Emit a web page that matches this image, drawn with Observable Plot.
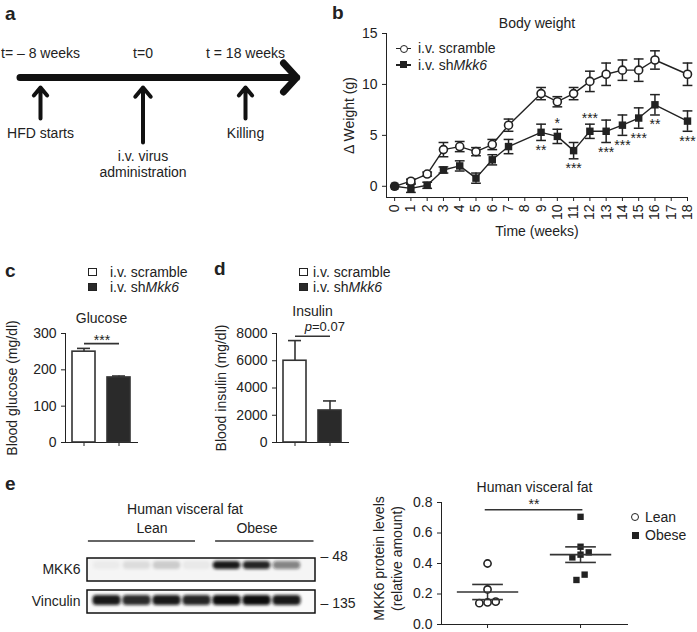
<!DOCTYPE html>
<html><head><meta charset="utf-8">
<script src="https://cdn.jsdelivr.net/npm/d3@7"></script>
<script src="https://cdn.jsdelivr.net/npm/@observablehq/plot@0.6"></script>
<style>
body{margin:0;background:#fff;}
#fig{position:relative;width:697px;height:632px;overflow:hidden;font-family:"Liberation Sans",Arial,Helvetica,sans-serif;color:#222;background:#fff;}
.panel{position:absolute;}
.letter{position:absolute;font-weight:bold;font-size:19px;line-height:1;}
.leg{position:absolute;font-size:14px;line-height:16px;white-space:nowrap;height:16px;}
.box{position:absolute;width:9px;height:8px;border:1.5px solid #222;box-sizing:border-box;}
.lnsym{position:absolute;height:1.5px;background:#222;}
.circ{position:absolute;width:8px;height:8px;border:1.5px solid #222;border-radius:50%;background:#fff;box-sizing:border-box;}
.sq{position:absolute;width:7px;height:7px;background:#222;}
</style></head>
<body>
<div id="fig"></div>
<script>
// ---------------- DATA ----------------
// Panel a: timeline
const timelineLabels = ["t= – 8 weeks", "t=0", "t = 18 weeks"];
const timelineEvents = ["HFD starts", "i.v. virus\nadministration", "Killing"];

// Panel b: body weight
const weeks = [0, 1, 2, 3, 4, 5, 6, 7, 9, 10, 11, 12, 13, 14, 15, 16, 18];
const scrambleMean = [0, 0.5, 1.2, 3.6, 3.9, 3.4, 4.1, 6.0, 9.1, 8.3, 9.1, 10.3, 11.0, 11.4, 11.4, 12.4, 11.0];
const scrambleSem  = [0, 0.2, 0.2, 0.7, 0.5, 0.4, 0.5, 0.6, 0.6, 0.5, 0.6, 1.0, 1.1, 1.0, 1.1, 0.9, 1.1];
const shMkk6Mean   = [0, -0.2, 0.1, 1.6, 2.0, 0.8, 2.6, 3.9, 5.3, 4.9, 3.5, 5.4, 5.4, 6.0, 6.7, 8.0, 6.4];
const shMkk6Sem    = [0, 0.4, 0.3, 0.3, 0.5, 0.5, 0.5, 0.7, 0.8, 0.7, 0.8, 0.7, 1.1, 1.0, 1.0, 1.0, 1.0];
const starWeeks  = [9, 10, 11, 12, 13, 14, 15, 16, 18];
const starLabels = ["**", "*", "***", "***", "***", "***", "***", "**", "***"];
const starSide   = ["below", "above", "below", "above", "below", "below", "below", "below", "below"];

// Panels c, d
const barGroups = ["i.v. scramble", "i.v. shMkk6"];
const glucoseMean = [250, 179];
const glucoseSem = [9, 4];
const glucoseSig = {y: 272, label: "***"};
const insulinMean = [6000, 2350];
const insulinSem = [1480, 700];
const insulinSig = {y: 7800, label: "=0.07"};

// Panel e: western blot
const blotLanes = [0, 1, 2, 3, 4, 5, 6];
const laneGroup = ["Lean", "Lean", "Lean", "Lean", "Obese", "Obese", "Obese"];
const mkk6Signal = [0.04, 0.1, 0.17, 0.05, 0.95, 0.9, 0.5];
const vinculinSignal = [0.95, 0.88, 0.95, 0.9, 1.0, 1.0, 0.95];
const blotRows = ["MKK6", "Vinculin"];
const blotMarkers = ["– 48", "– 135"];
const groupSpans = [{group: "Lean", from: -0.62, to: 2.95}, {group: "Obese", from: 3.62, to: 6.9}];

// Panel e: quantification
const leanValues = [0.40, 0.23, 0.15, 0.14, 0.145];
const obeseValues = [0.706, 0.51, 0.458, 0.44, 0.473, 0.327, 0.292];
const scatterGroups = ["Lean", "Obese"];
const scatterSig = {y: 0.752, label: "**"};

// ---------------- HELPERS ----------------
const FONT = '"Liberation Sans", Arial, Helvetica, sans-serif';
const INK = "#222";
const fig = document.getElementById("fig");
function place(node, left, top) {
  const d = document.createElement("div");
  d.className = "panel";
  d.style.left = left + "px"; d.style.top = top + "px";
  d.appendChild(node); fig.appendChild(d);
  return node;
}
function html(str) { const t = document.createElement("div"); t.innerHTML = str; while (t.firstChild) fig.appendChild(t.firstChild); }
const st = (size = 14) => ({fontFamily: FONT, fontSize: size + "px", color: INK, background: "transparent", overflow: "visible"});

// ---------------- PANEL A ----------------
{
  const ev = timelineLabels.map((label, i) => ({i, label, note: timelineEvents[i], long: i === 1}));
  const a = Plot.plot({
    width: 300, height: 190, marginTop: 0, marginBottom: 0, marginLeft: 40, marginRight: 55,
    style: st(14),
    x: {domain: [0, 2], axis: null},
    y: {domain: [0, 190], range: [0, 190], axis: null},
    marks: [
      Plot.arrow([0], {x1: -0.2, x2: 2.5, y1: 77, y2: 77, stroke: "#111", strokeWidth: 7, headLength: 4.2, headAngle: 95, strokeLinejoin: "miter"}),
      Plot.arrow(ev, {x1: "i", x2: "i", y1: d => d.long ? 142 : 118, y2: 87, stroke: "#111", strokeWidth: 4, headLength: 4.5, headAngle: 80, strokeLinejoin: "miter"}),
      Plot.text(ev, {x: "i", y: 53, text: "label", fill: INK}),
      Plot.text(ev, {x: "i", y: d => d.long ? 163 : 132, text: "note", fill: INK, lineHeight: 1.15})
    ]
  });
  place(a, 0, 0);
}

// ---------------- PANEL B ----------------
{
  const rows = weeks.flatMap((w, i) => [
    {week: w, mean: scrambleMean[i], sem: scrambleSem[i], series: "scramble"},
    {week: w, mean: shMkk6Mean[i], sem: shMkk6Sem[i], series: "shMkk6"}
  ]);
  const sc = rows.filter(d => d.series === "scramble");
  const sh = rows.filter(d => d.series === "shMkk6");
  const stars = starWeeks.map((w, k) => {
    const d = sh.find(r => r.week === w);
    return {week: w, label: starLabels[k], side: starSide[k], y: starSide[k] === "below" ? d.mean - d.sem : d.mean + d.sem};
  });
  const eb = rows.filter(d => d.sem > 0);
  const b = Plot.plot({
    width: 397, height: 240, marginLeft: 86, marginRight: 10, marginTop: 33, marginBottom: 43,
    style: st(14),
    x: {domain: [-0.5, 18], ticks: d3.range(0, 19), tickRotate: -90, tickSize: 4, tickPadding: 3, line: true,
        label: "Time (weeks)", labelAnchor: "center", labelOffset: 38, labelArrow: false},
    y: {domain: [-1.1, 15], ticks: [0, 5, 10, 15], tickSize: 4, line: true,
        label: "Δ Weight (g)", labelAnchor: "center", labelOffset: 42, labelArrow: false},
    marks: [
      Plot.line(rows, {x: "week", y: "mean", z: "series", stroke: INK, strokeWidth: 1.4}),
      Plot.ruleX(eb, {x: "week", y1: d => d.mean - d.sem, y2: d => d.mean + d.sem, stroke: INK, strokeWidth: 1.5}),
      Plot.link(eb, {x1: d => d.week - 0.3, x2: d => d.week + 0.3, y1: d => d.mean + d.sem, y2: d => d.mean + d.sem, stroke: INK, strokeWidth: 1.5}),
      Plot.link(eb, {x1: d => d.week - 0.3, x2: d => d.week + 0.3, y1: d => d.mean - d.sem, y2: d => d.mean - d.sem, stroke: INK, strokeWidth: 1.5}),
      Plot.dot(sc, {x: "week", y: "mean", r: 4, fill: "white", stroke: INK, strokeWidth: 1.6}),
      Plot.dot(sh, {x: "week", y: "mean", r: 4.2, symbol: "square", fill: INK}),
      Plot.text(stars.filter(d => d.side === "below"), {x: "week", y: "y", text: "label", dy: 10, fill: INK, fontSize: 14}),
      Plot.text(stars.filter(d => d.side === "above"), {x: "week", y: "y", text: "label", dy: -6, fill: INK, fontSize: 14}),
      Plot.text(["Body weight"], {frameAnchor: "top", dy: -15, fill: INK, fontSize: 14})
    ]
  });
  place(b, 300, 0);
}

// ---------------- PANELS C, D ----------------
function barPanel({means, sems, sig, domain, ticks, label, labelOffset, title, titleDy, italicP}) {
  const data = barGroups.map((g, i) => ({group: g, mean: means[i], sem: sems[i]}));
  const marks = [
    Plot.barY(data, {x: "group", y: "mean", fill: d => d.group === barGroups[0] ? "white" : "#2a2a2a", stroke: "#333", strokeWidth: 1.6}),
    Plot.ruleX(data, {x: "group", y1: "mean", y2: d => d.mean + d.sem, stroke: "#333", strokeWidth: 1.6}),
    Plot.tickY(data, {x: "group", y: d => d.mean + d.sem, stroke: "#333", strokeWidth: 1.6, insetLeft: 5, insetRight: 5}),
    Plot.link([sig], {x1: () => barGroups[0], x2: () => barGroups[1], y1: "y", y2: "y", stroke: "#333", strokeWidth: 1.6}),
    Plot.text([title], {frameAnchor: "top", dy: titleDy, fill: INK, fontSize: 14})
  ];
  if (italicP) {
    marks.push(Plot.text([sig], {x: () => barGroups[0], y: "y", text: () => "p", dx: 17, dy: -9, textAnchor: "end", fontStyle: "italic", fill: INK, fontSize: 13}));
    marks.push(Plot.text([sig], {x: () => barGroups[0], y: "y", text: "label", dx: 17, dy: -9, textAnchor: "start", fill: INK, fontSize: 13}));
  } else {
    marks.push(Plot.text([sig], {x: () => barGroups[0], y: "y", text: "label", dx: 18, dy: -3, fill: INK, fontSize: 14}));
  }
  return Plot.plot({
    width: 150, height: 162, marginLeft: 65, marginRight: 13, marginTop: 43, marginBottom: 10,
    style: st(14),
    x: {domain: barGroups, paddingInner: 0.33, paddingOuter: 0.17, tickSize: 4, tickFormat: () => "", line: true, label: null},
    y: {domain, ticks, tickSize: 4, tickFormat: "d", line: true, label, labelAnchor: "center", labelOffset, labelArrow: false},
    marks
  });
}
place(barPanel({means: glucoseMean, sems: glucoseSem, sig: glucoseSig, domain: [0, 300], ticks: [0, 100, 200, 300],
  label: "Blood glucose (mg/dl)", labelOffset: 58, title: "Glucose", titleDy: -20}), 0, 290);
{
  const d = barPanel({means: insulinMean, sems: insulinSem, sig: insulinSig, domain: [0, 8000], ticks: [0, 2000, 4000, 6000, 8000],
    label: "Blood insulin (mg/dl)", labelOffset: 60, title: "Insulin", titleDy: -27, italicP: true});
  place(d, 211, 290);
}

// ---------------- PANEL E: BLOT ----------------
{
  const mk = blotLanes.map((l, i) => ({lane: l, row: "MKK6", signal: mkk6Signal[i], group: laneGroup[i]}));
  const vi = blotLanes.map((l, i) => ({lane: l, row: "Vinculin", signal: vinculinSignal[i], group: laneGroup[i]}));
  const xd = [-0.65, 6.95];
  const groups = groupSpans.map(s => ({...s, mid: d3.mean(blotLanes.filter((l, i) => laneGroup[i] === s.group))}));
  const blot = Plot.plot({
    width: 360, height: 142, marginLeft: 87, marginRight: 45, marginTop: 68, marginBottom: 18,
    style: st(14),
    x: {domain: xd, axis: null},
    opacity: {domain: [0, 1], range: [0, 1]},
    y: {domain: blotRows, paddingInner: 0.27, paddingOuter: 0, tickSize: 0, tickPadding: 7, label: null},
    marks: [
      Plot.barX(blotRows, {y: d => d, x1: () => xd[0], x2: () => xd[1], fill: d => d === "MKK6" ? "#f5f5f5" : "#fafafa", stroke: "#111", strokeWidth: 1.5}),
      Plot.barX(mk, {y: "row", x1: d => d.lane - 0.46, x2: d => d.lane + 0.46, insetTop: 3, insetBottom: 12, rx: 4,
        fill: "#111", fillOpacity: "signal"}),
      Plot.barX(vi, {y: "row", x1: d => d.lane - 0.47, x2: d => d.lane + 0.47, insetTop: 5, insetBottom: 8, rx: 4,
        fill: "#111", fillOpacity: "signal"}),
      Plot.text([blotMarkers[0]], {x: () => xd[1], y: () => blotRows[0], textAnchor: "start", dx: 5, dy: -13, fill: INK}),
      Plot.text([blotMarkers[1]], {x: () => xd[1], y: () => blotRows[1], textAnchor: "start", dx: 5, dy: 2, fill: INK}),
      Plot.text(groups, {x: "mid", y: () => "MKK6", text: "group", dy: -41, fill: INK}),
      Plot.ruleY(groups, {y: () => "MKK6", x1: "from", x2: "to", dy: -29, stroke: "#333", strokeWidth: 1.3}),
      Plot.text(["Human visceral fat"], {x: () => 2.6, y: () => "MKK6", dy: -60, fill: INK})
    ]
  });
  const defs = d3.select(blot).insert("defs", ":first-child");
  defs.append("filter").attr("id", "blotblur").attr("x", "-30%").attr("y", "-80%").attr("width", "160%").attr("height", "260%")
    .append("feGaussianBlur").attr("stdDeviation", 1.5);
  d3.select(blot).selectAll('g[aria-label="bar"]').filter((d, i) => i > 0).attr("filter", "url(#blotblur)");
  place(blot, 0, 490);
}

// ---------------- PANEL E: SCATTER ----------------
{
  function spread(values, gi) {
    const idx = values.map((v, i) => i).sort((a, b) => values[a] - values[b]);
    const clusters = [];
    idx.forEach(i => {
      const last = clusters[clusters.length - 1];
      if (last && values[i] - values[last[last.length - 1]] <= 0.036) last.push(i); else clusters.push([i]);
    });
    const out = [];
    clusters.forEach(c => c.forEach((i, k) => out.push({group: scatterGroups[gi], value: values[i], x: gi + (k - (c.length - 1) / 2) * 0.088})));
    return out;
  }
  const lean = spread(leanValues, 0), obese = spread(obeseValues, 1);
  const stats = [leanValues, obeseValues].map((v, gi) => {
    const m = d3.mean(v), s = d3.deviation(v) / Math.sqrt(v.length);
    return {gi, mean: m, lo: m - s, hi: m + s};
  });
  const sp = Plot.plot({
    width: 337, height: 162, marginLeft: 81, marginRight: 70, marginTop: 32, marginBottom: 8,
    style: st(14),
    x: {domain: [-0.495, 1.505], ticks: [0, 1], tickFormat: () => "", tickSize: 4, line: true, label: null},
    y: {domain: [0, 0.8], ticks: [0, 0.2, 0.4, 0.6, 0.8], tickFormat: ".1f", tickSize: 4, line: true, label: null},
    marks: [
      Plot.ruleX(stats, {x: "gi", y1: "lo", y2: "hi", stroke: "#333", strokeWidth: 1.5}),
      Plot.dot(lean, {x: "x", y: "value", r: 3.6, fill: "white", stroke: INK, strokeWidth: 1.6}),
      Plot.dot(obese, {x: "x", y: "value", r: 3.6, symbol: "square", fill: INK}),
      Plot.link(stats, {x1: d => d.gi - 0.33, x2: d => d.gi + 0.33, y1: "mean", y2: "mean", stroke: "#333", strokeWidth: 1.6}),
      Plot.link(stats, {x1: d => d.gi - 0.165, x2: d => d.gi + 0.165, y1: "lo", y2: "lo", stroke: "#333", strokeWidth: 1.6}),
      Plot.link(stats, {x1: d => d.gi - 0.165, x2: d => d.gi + 0.165, y1: "hi", y2: "hi", stroke: "#333", strokeWidth: 1.6}),
      Plot.link([scatterSig], {x1: () => -0.03, x2: () => 1.02, y1: "y", y2: "y", stroke: "#333", strokeWidth: 1.6}),
      Plot.text([scatterSig], {x: () => 0.5, y: "y", text: "label", dy: -5, fill: INK}),
      Plot.text(["Human visceral fat"], {frameAnchor: "top", dy: -20, fill: INK}),
      Plot.text(["MKK6 protein levels\n(relative amount)"], {frameAnchor: "left", dx: -54, dy: -5, rotate: -90, textAnchor: "middle", lineAnchor: "middle", lineHeight: 1.3, fill: INK})
    ]
  });
  place(sp, 360, 470);
}

// ---------------- LETTERS & LEGENDS ----------------
html(`
<div class="letter" style="left:5px;top:4px">a</div>
<div class="letter" style="left:332px;top:3px">b</div>
<div class="letter" style="left:5px;top:261px">c</div>
<div class="letter" style="left:214px;top:259px">d</div>
<div class="letter" style="left:5px;top:474px">e</div>

<div class="lnsym" style="left:396px;top:47.5px;width:15px"></div>
<div class="circ" style="left:399.5px;top:44.5px"></div>
<div class="leg" style="left:418px;top:40px">i.v. scramble</div>
<div class="lnsym" style="left:396px;top:64px;width:15px"></div>
<div class="sq" style="left:400px;top:61px"></div>
<div class="leg" style="left:418px;top:57px">i.v. sh<i>Mkk6</i></div>

<div class="box" style="left:88px;top:268px;background:#fff"></div>
<div class="leg" style="left:110px;top:264px">i.v. scramble</div>
<div class="box" style="left:88px;top:283px;background:#2a2a2a"></div>
<div class="leg" style="left:110px;top:279px">i.v. sh<i>Mkk6</i></div>

<div class="box" style="left:299px;top:268px;background:#fff"></div>
<div class="leg" style="left:313px;top:264px">i.v. scramble</div>
<div class="box" style="left:299px;top:283px;background:#2a2a2a"></div>
<div class="leg" style="left:313px;top:279px">i.v. sh<i>Mkk6</i></div>

<div class="circ" style="left:631px;top:513px"></div>
<div class="leg" style="left:645px;top:509px">Lean</div>
<div class="sq" style="left:631.5px;top:531.5px"></div>
<div class="leg" style="left:645px;top:527px">Obese</div>
`);
</script>
</body></html>
